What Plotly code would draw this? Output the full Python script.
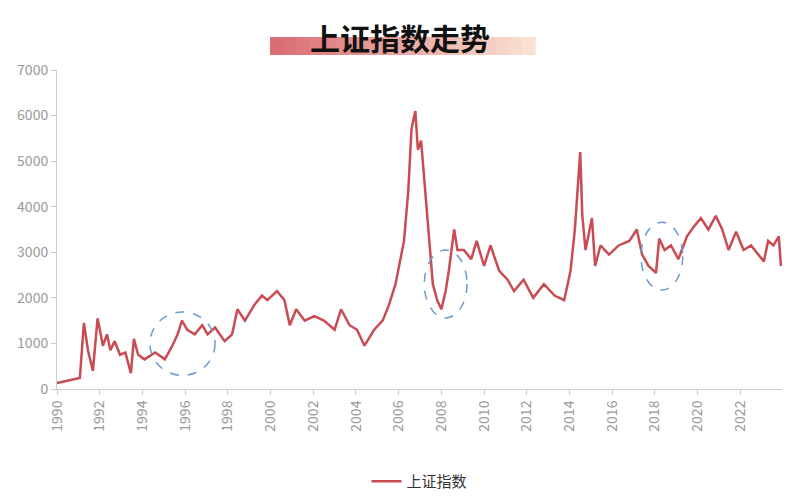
import plotly.graph_objects as go

years = [1990.0,1991.07,1991.26,1991.45,1991.68,1991.9,1992.15,1992.34,1992.5,1992.7,1992.95,1993.2,1993.46,1993.6,1993.8,1994.1,1994.6,1995.05,1995.4,1995.65,1995.85,1996.1,1996.45,1996.8,1997.05,1997.4,1997.85,1998.2,1998.45,1998.8,1999.25,1999.6,1999.85,2000.3,2000.65,2000.9,2001.2,2001.6,2002.05,2002.5,2003.0,2003.3,2003.7,2004.05,2004.4,2004.85,2005.25,2005.55,2005.85,2006.1,2006.25,2006.45,2006.6,2006.78,2006.9,2007.05,2007.25,2007.43,2007.6,2007.8,2008.0,2008.2,2008.35,2008.6,2008.75,2009.05,2009.4,2009.65,2010.0,2010.3,2010.7,2011.1,2011.4,2011.85,2012.3,2012.8,2013.3,2013.75,2014.05,2014.25,2014.4,2014.5,2014.6,2014.75,2014.9,2015.05,2015.2,2015.45,2015.85,2016.3,2016.8,2017.15,2017.4,2017.7,2018.05,2018.2,2018.45,2018.75,2019.1,2019.5,2019.8,2020.15,2020.5,2020.85,2021.15,2021.45,2021.8,2022.15,2022.5,2022.85,2023.1,2023.3,2023.55,2023.8,2023.9]
values = [130,240,1450,850,400,1550,950,1200,850,1050,750,800,350,1100,750,650,800,650,950,1200,1500,1300,1200,1400,1200,1350,1050,1200,1750,1500,1850,2050,1950,2150,1950,1400,1750,1500,1600,1500,1300,1750,1400,1300,950,1300,1500,1850,2300,2850,3250,4350,5700,6100,5250,5450,4250,3250,2300,1950,1750,2150,2600,3500,3050,3050,2850,3250,2700,3150,2600,2400,2150,2400,2000,2300,2050,1950,2600,3500,4600,5200,3800,3050,3400,3750,2700,3150,2950,3150,3250,3500,2950,2700,2550,3300,3050,3150,2850,3350,3550,3750,3500,3800,3500,3050,3450,3050,3150,2950,2800,3250,3150,3350,2700]
tick_years = list(range(1990, 2023, 2))
series_name = "上证指数"
title_text = "上证指数走势"

fig = go.Figure(go.Scatter(x=years, y=values, mode="lines", name=series_name,
                           line=dict(color="#c94c52", width=2.5)))

shapes = []
for (x0, x1, y0, y1) in [(1994.35, 1997.4, 300, 1690), (2007.2, 2009.2, 1560, 3050), (2017.35, 2019.3, 2170, 3660)]:
    shapes.append(dict(type="circle", xref="x", yref="y", x0=x0, x1=x1, y0=y0, y1=y1,
                       line=dict(color="#6a9bd1", width=1.5, dash="dash")))
n = 20
px0, px1 = 270, 535
c0 = (218, 110, 116); c1 = (250, 225, 210)
for i in range(n):
    t = i / (n - 1)
    c = tuple(int(c0[k] + (c1[k] - c0[k]) * t) for k in range(3))
    a = px0 + (px1 - px0) * i / n
    b = px0 + (px1 - px0) * (i + 1) / n
    shapes.append(dict(type="rect", xref="paper", yref="paper", layer="below",
                       x0=(a - 57) / 725, x1=(b - 57) / 725 + 0.001,
                       y0=(389 - 55) / 319, y1=(389 - 37) / 319,
                       fillcolor="rgb(%d,%d,%d)" % c, line=dict(width=0)))

fig.update_layout(
    width=800, height=500, plot_bgcolor="white", paper_bgcolor="white",
    margin=dict(l=49, r=26, t=62, b=119, autoexpand=False),
    font=dict(family="Noto Sans CJK SC", color="#888"),
    shapes=shapes,
    annotations=[dict(text="<b>" + title_text + "</b>", xref="paper", yref="paper",
                      x=(400 - 57) / 725, y=(389 - 37) / 319, yanchor="middle", showarrow=False,
                      font=dict(size=30, color="#111", family="Noto Sans CJK SC"))],
    showlegend=True,
    legend=dict(orientation="h", x=0.5, xanchor="center", y=-0.29, yanchor="middle",
                font=dict(size=15, color="#333")),
    xaxis=dict(range=[1990, 2023.95], tickvals=tick_years, tickangle=-90, showgrid=False,
               showline=True, linecolor="#ccc", ticks="outside", tickcolor="#ccc", automargin=False,
               tickfont=dict(size=14, color="#999"), zeroline=False),
    yaxis=dict(range=[0, 7000], dtick=1000, showgrid=False, showline=True, linecolor="#ccc", automargin=False,
               ticks="outside", tickcolor="#ccc", tickfont=dict(size=14, color="#999"), zeroline=False),
)
fig.write_html("out.html")
